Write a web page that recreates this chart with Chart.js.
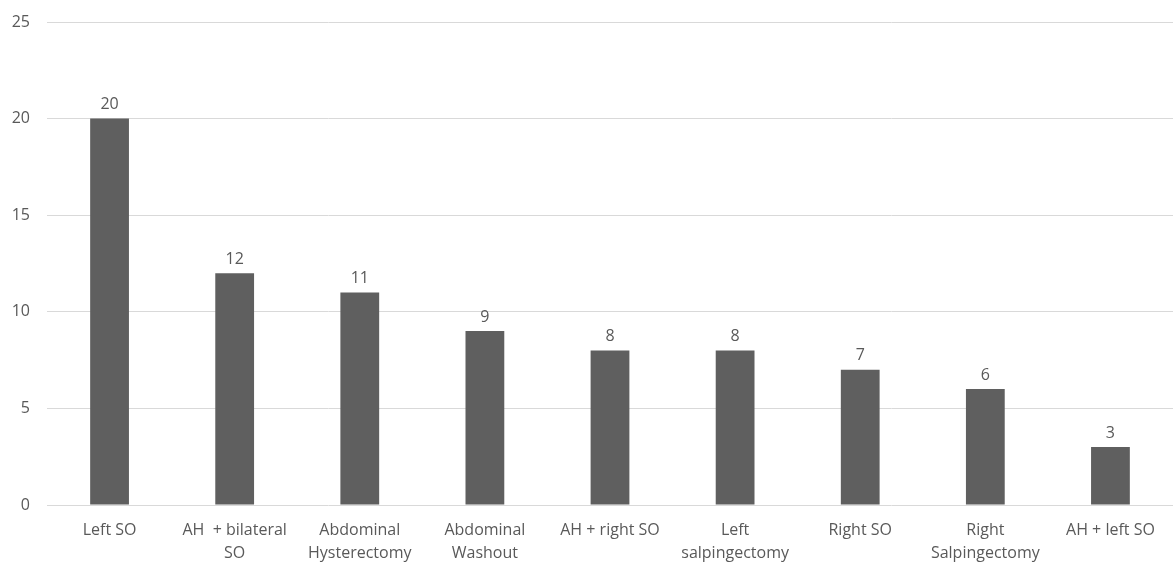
<!DOCTYPE html>
<html>
<head>
<meta charset="utf-8">
<script src="https://cdn.jsdelivr.net/npm/chart.js@4/dist/chart.umd.min.js"></script>
<style>
html,body{margin:0;padding:0;background:#fff;}
#wrap{width:1173px;height:562px;position:relative;}
</style>
</head>
<body>
<div id="wrap"><canvas id="c" width="1173" height="562"></canvas></div>
<script>
const categories = [
  ["Left SO"],
  ["AH  + bilateral", "SO"],
  ["Abdominal", "Hysterectomy"],
  ["Abdominal", "Washout"],
  ["AH + right SO"],
  ["Left", "salpingectomy"],
  ["Right SO"],
  ["Right", "Salpingectomy"],
  ["AH + left SO"]
];
const values = [20, 12, 11, 9, 8, 8, 7, 6, 3];
const yTicks = [0, 5, 10, 15, 20, 25];

const FONT = "'Open Sans', 'Liberation Sans', sans-serif";
const TEXT = '#595959';

const valueLabels = {
  id: 'valueLabels',
  afterDatasetsDraw(chart) {
    const ctx = chart.ctx;
    const meta = chart.getDatasetMeta(0);
    ctx.save();
    ctx.font = '16px ' + FONT;
    ctx.fillStyle = TEXT;
    ctx.textAlign = 'center';
    ctx.textBaseline = 'bottom';
    meta.data.forEach((bar, i) => {
      ctx.fillText(String(chart.data.datasets[0].data[i]), bar.x, bar.y - 6);
    });
    ctx.restore();
  }
};

new Chart(document.getElementById('c'), {
  type: 'bar',
  data: {
    labels: categories,
    datasets: [{
      data: values,
      backgroundColor: '#5f5f5f',
      barPercentage: 0.62,
      categoryPercentage: 0.5
    }]
  },
  options: {
    responsive: false,
    animation: false,
    layout: { padding: { top: 22, right: 0, left: 0, bottom: 0 } },
    plugins: { legend: { display: false }, tooltip: { enabled: false } },
    scales: {
      x: {
        grid: { display: false, drawTicks: false },
        border: { display: false },
        ticks: {
          color: TEXT,
          font: { family: FONT, size: 16, lineHeight: 1.45 },
          maxRotation: 0,
          autoSkip: false,
          padding: 14
        },
        afterFit(scale) { scale.height = 57; scale.paddingLeft = 0; scale.paddingRight = 0; }
      },
      y: {
        min: 0,
        max: 25,
        afterBuildTicks(scale) { scale.ticks = yTicks.map(v => ({ value: v })); },
        grid: { color: '#d9d9d9', lineWidth: 1, drawTicks: false },
        border: { display: false },
        ticks: {
          color: TEXT,
          font: { family: FONT, size: 16 },
          padding: 17
        },
        afterFit(scale) { scale.width = 47; scale.paddingTop = 0; scale.paddingBottom = 0; }
      }
    }
  },
  plugins: [valueLabels]
});
</script>
</body>
</html>
